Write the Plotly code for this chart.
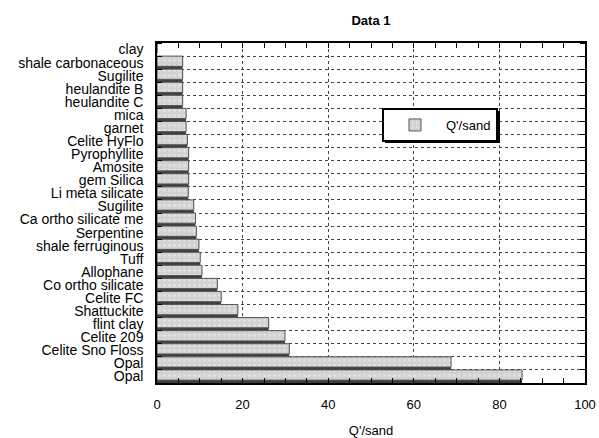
import plotly.graph_objects as go

categories = ["clay", "shale carbonaceous", "Sugilite", "heulandite B", "heulandite C",
              "mica", "garnet", "Celite HyFlo", "Pyrophyllite", "Amosite", "gem Silica",
              "Li meta silicate", "Sugilite", "Ca ortho silicate me", "Serpentine",
              "shale ferruginous", "Tuff", "Allophane", "Co ortho silicate", "Celite FC",
              "Shattuckite", "flint clay", "Celite 209", "Celite Sno Floss", "Opal", "Opal"]
values = [0, 6.0, 6.0, 6.0, 6.0, 6.8, 6.8, 7.1, 7.4, 7.4, 7.4, 7.3, 8.6, 9.0, 9.2,
          9.8, 10.1, 10.5, 14.1, 15.0, 18.9, 26.1, 29.9, 30.9, 68.7, 85.3]
series_name = "Q'/sand"
x_ticks = [0, 20, 40, 60, 80, 100]

n = len(categories)
ypos = [n - 1 - i for i in range(n)]

FONT = "Liberation Sans, Arial, Helvetica, sans-serif"

fig = go.Figure()
# dark shadow band (full row)
fig.add_trace(go.Bar(
    x=values, y=ypos, orientation="h", width=1.0, offset=-0.5,
    marker=dict(color="#3f3f3f", line=dict(width=0)),
    showlegend=False, hoverinfo="skip"))
# light patterned bar
fig.add_trace(go.Bar(
    x=values, y=ypos, orientation="h", width=0.78, offset=-0.28,
    name=series_name,
    marker=dict(color="#d2d2d2",
                pattern=dict(shape=".", fgcolor="#f2f2f2", size=5, solidity=0.25),
                line=dict(width=1, color="#555555"))))

fig.update_layout(
    width=599, height=438,
    margin=dict(l=157, r=14, t=43, b=55, autoexpand=False),
    paper_bgcolor="white", plot_bgcolor="white",
    barmode="overlay",
    font=dict(family=FONT, size=13, color="black"),
    title=dict(text="<b>Data 1</b>", x=(157 + 585) / 2 / 599, xanchor="center",
               y=1 - 20 / 438, yanchor="middle", font=dict(size=13)),
    showlegend=True,
    legend=dict(x=(382 - 157) / 428, y=(383 - 108) / 340, xanchor="left", yanchor="top",
                bgcolor="white", bordercolor="black", borderwidth=2,
                font=dict(size=13), itemwidth=52),
)

fig.update_xaxes(
    range=[0, 100], tickvals=x_ticks, automargin=False,
    showline=True, linecolor="black", linewidth=1.5, mirror="ticks",
    ticks="inside", ticklen=5, tickcolor="black",
    showgrid=True, gridcolor="#444444", griddash="dot", gridwidth=1,
    zeroline=False, ticklabelstandoff=9,
    minor=dict(dtick=5, ticks="inside", ticklen=5, tickcolor="black", showgrid=False),
    title=dict(text=series_name, standoff=16, font=dict(size=13)),
    tickfont=dict(size=13),
)
fig.update_yaxes(
    range=[-0.5, n - 0.5], tickvals=ypos, ticktext=categories, automargin=False,
    showline=True, linecolor="black", linewidth=1.5, mirror="ticks",
    ticks="", showgrid=False, zeroline=False,
    ticklabelstandoff=9,
    minor=dict(tick0=0.5, dtick=1, ticks="inside", ticklen=5, tickcolor="black",
               showgrid=True, gridcolor="#444444", griddash="dot", gridwidth=1),
    tickfont=dict(size=14),
)

# legend drop shadow
fig.add_shape(type="rect", xref="paper", yref="paper",
              x0=(385 - 157) / 428, x1=(500 - 157) / 428,
              y0=(383 - 143) / 340, y1=(383 - 111) / 340,
              fillcolor="black", line=dict(width=0), layer="above")

fig.write_html("out.html")
